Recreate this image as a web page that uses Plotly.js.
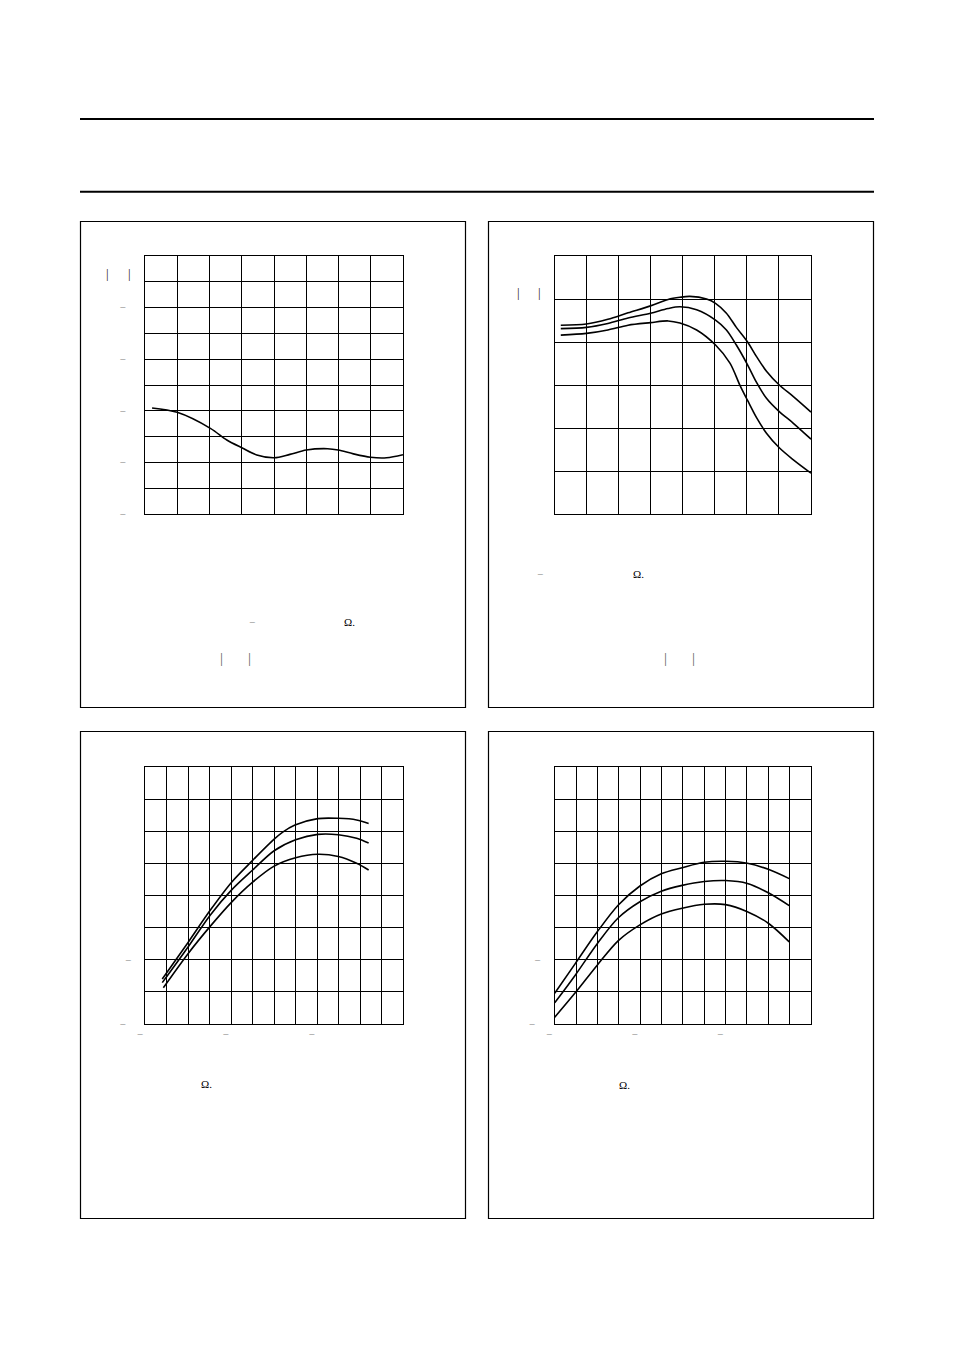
<!DOCTYPE html>
<html>
<head>
<meta charset="utf-8">
<script src="https://cdn.plot.ly/plotly-3.0.1.min.js"></script>
<style>
  html, body { margin: 0; padding: 0; background: #fff; }
  #page { width: 954px; height: 1350px; }
</style>
</head>
<body>
<div id="page"></div>
<script>
// 左上图: 单条曲线
const c1X = [0.21, 0.99, 2.02, 2.53, 3.01, 3.46, 4.0, 4.49, 5.0, 5.66, 5.99, 6.46, 6.99, 7.49, 8.0];
const c1Y = [4.11, 3.94, 3.32, 2.87, 2.56, 2.29, 2.18, 2.31, 2.48, 2.53, 2.48, 2.33, 2.20, 2.18, 2.30];

// 右上图: 三条曲线
const c2TopX = [0.19, 0.99, 1.66, 2.29, 2.99, 3.54, 3.91, 4.22, 4.74, 5.02, 5.36, 5.67, 6.02, 6.30, 6.61, 7.01, 7.45, 8.0];
const c2TopY = [4.39, 4.42, 4.53, 4.68, 4.84, 4.99, 5.04, 5.06, 5.00, 4.90, 4.67, 4.34, 4.00, 3.66, 3.32, 3.00, 2.73, 2.37];
const c2MidX = [0.19, 0.99, 1.66, 2.29, 2.99, 3.54, 3.91, 4.43, 5.02, 5.36, 5.67, 6.02, 6.30, 6.61, 7.01, 7.45, 8.0];
const c2MidY = [4.31, 4.34, 4.43, 4.56, 4.67, 4.78, 4.82, 4.75, 4.51, 4.28, 3.93, 3.47, 3.06, 2.69, 2.38, 2.11, 1.74];
const c2BotX = [0.19, 0.99, 1.66, 2.29, 2.99, 3.54, 3.91, 4.43, 5.02, 5.47, 5.79, 6.02, 6.30, 6.61, 7.01, 7.45, 8.0];
const c2BotY = [4.16, 4.20, 4.28, 4.39, 4.45, 4.49, 4.44, 4.28, 3.93, 3.51, 2.98, 2.64, 2.24, 1.88, 1.54, 1.26, 0.95];

// 左下图
const c3TopX = [0.79, 2.0, 3.03, 4.02, 5.0, 6.0, 6.4, 6.97, 8.03, 8.99, 9.84, 10.4];
const c3TopY = [1.40, 2.55, 3.55, 4.42, 5.10, 5.76, 5.98, 6.20, 6.40, 6.41, 6.36, 6.25];
const c3MidX = [0.79, 2.0, 3.03, 4.02, 5.0, 6.0, 7.0, 8.03, 8.99, 9.84, 10.4];
const c3MidY = [1.29, 2.41, 3.40, 4.18, 4.80, 5.40, 5.74, 5.91, 5.90, 5.79, 5.64];
const c3BotX = [0.84, 2.0, 3.03, 4.02, 5.0, 6.0, 7.0, 8.03, 8.99, 9.84, 10.4];
const c3BotY = [1.13, 2.20, 3.05, 3.80, 4.42, 4.92, 5.18, 5.29, 5.22, 5.01, 4.80];

// 右下图
const c4X   = [0, 0.97, 2.0, 2.98, 3.99, 4.99, 5.97, 7.0, 8.0, 9.02, 10.0, 10.98];
const c4Top = [0.96, 1.89, 2.88, 3.71, 4.30, 4.68, 4.87, 5.04, 5.07, 5.01, 4.82, 4.53];
const c4Mid = [0.66, 1.53, 2.51, 3.31, 3.81, 4.14, 4.32, 4.44, 4.47, 4.38, 4.09, 3.69];
const c4Bot = [0.21, 0.98, 1.84, 2.60, 3.09, 3.43, 3.61, 3.73, 3.72, 3.50, 3.14, 2.56];

// 刻度文字 (原图只剩下负号)
const FS = '\u2007';
const c1YTicks = ['−' + FS + FS + FS, '', '−' + FS + FS + FS, '', '−' + FS + FS + FS, '', '−' + FS + FS + FS, '', '−' + FS + FS + FS, '', ''];
const lowYTicks = ['−' + FS + FS + FS, '', '−' + FS + FS, '', '', '', '', '', ''];
const lowXTicks = ['−' + FS + FS, '', '', '', '−' + FS + FS, '', '', '', '−' + FS + FS, '', '', '', ''];

const W = 954, H = 1350;
const px = v => v / W;
const py = v => 1 - v / H;

function range(n) { return Array.from({ length: n + 1 }, (_, i) => i); }

function axis(n, domain, text, anchor) {
    return {
        domain: domain,
        range: [0, n],
        tickvals: range(n),
        ticktext: text || range(n).map(() => ''),
        ticks: '',
        showgrid: true,
        gridcolor: '#000',
        gridwidth: 1,
        zeroline: false,
        showline: true,
        mirror: true,
        linecolor: '#000',
        linewidth: 1,
        fixedrange: true,
        anchor: anchor,
        tickfont: { family: 'Liberation Serif', size: 11, color: '#888' }
    };
}

function curve(x, y, xa, ya) {
    return {
        type: 'scatter', mode: 'lines', x: x, y: y,
        xaxis: xa, yaxis: ya,
        line: { color: '#000', width: 1.6, shape: 'spline', smoothing: 0.9 },
        hoverinfo: 'skip', showlegend: false
    };
}

const traces = [
    curve(c1X, c1Y, 'x', 'y'),
    curve(c2TopX, c2TopY, 'x2', 'y2'),
    curve(c2MidX, c2MidY, 'x2', 'y2'),
    curve(c2BotX, c2BotY, 'x2', 'y2'),
    curve(c3TopX, c3TopY, 'x3', 'y3'),
    curve(c3MidX, c3MidY, 'x3', 'y3'),
    curve(c3BotX, c3BotY, 'x3', 'y3'),
    curve(c4X, c4Top, 'x4', 'y4'),
    curve(c4X, c4Mid, 'x4', 'y4'),
    curve(c4X, c4Bot, 'x4', 'y4')
];

const leftX = [px(145.3), px(403)];
const rightX = [px(554.7), px(811)];
const topY = [py(514), py(256)];
const lowY = [py(1024), py(767.3)];

function box(x0, y0, x1, y1) {
    return { type: 'rect', xref: 'paper', yref: 'paper',
        x0: px(x0), x1: px(x1), y0: py(y0), y1: py(y1),
        line: { color: '#000', width: 1.2 } };
}
function rule(y) {
    return { type: 'line', xref: 'paper', yref: 'paper',
        x0: px(80), x1: px(874), y0: py(y), y1: py(y),
        line: { color: '#000', width: 2 } };
}

function note(text, x, y, size, color) {
    return { text: text, xref: 'paper', yref: 'paper', x: px(x), y: py(y),
        showarrow: false, xanchor: 'center', yanchor: 'middle',
        font: { family: 'Liberation Serif', size: size || 12, color: color || '#000' } };
}

const layout = {
    width: W, height: H,
    margin: { l: 0, r: 0, t: 0, b: 0 },
    paper_bgcolor: '#fff', plot_bgcolor: '#fff',
    showlegend: false,
    xaxis: axis(8, leftX, null, 'y'),
    yaxis: axis(10, topY, c1YTicks, 'x'),
    xaxis2: axis(8, rightX, null, 'y2'),
    yaxis2: axis(6, topY, null, 'x2'),
    xaxis3: axis(12, leftX, lowXTicks, 'y3'),
    yaxis3: axis(8, lowY, lowYTicks, 'x3'),
    xaxis4: axis(12, rightX, lowXTicks, 'y4'),
    yaxis4: axis(8, lowY, lowYTicks, 'x4'),
    shapes: [
        rule(119), rule(191.7),
        box(80.5, 221.5, 465.5, 707.5),
        box(488.5, 221.5, 873.5, 707.5),
        box(80.5, 731.5, 465.5, 1218.5),
        box(488.5, 731.5, 873.5, 1218.5)
    ],
    annotations: [
        note('|', 107, 273.5, 13, '#222'), note('|', 129.3, 273.5, 13, '#222'),
        note('−', 252, 622, 11, '#888'), note('Ω.', 349, 622, 11),
        note('|', 221, 658, 15, '#666'), note('|', 249, 658, 15, '#666'),
        note('|', 518.7, 292, 13, '#222'), note('|', 539.7, 292, 13, '#222'),
        note('−', 540.3, 574, 11, '#888'), note('Ω.', 638, 574, 11),
        note('|', 665.7, 658, 15, '#666'), note('|', 693, 658, 15, '#666'),
        note('Ω.', 206, 1083.5, 11),
        note('Ω.', 624.5, 1085, 11)
    ]
};

Plotly.newPlot('page', traces, layout, { staticPlot: true, displayModeBar: false });
</script>
</body>
</html>
